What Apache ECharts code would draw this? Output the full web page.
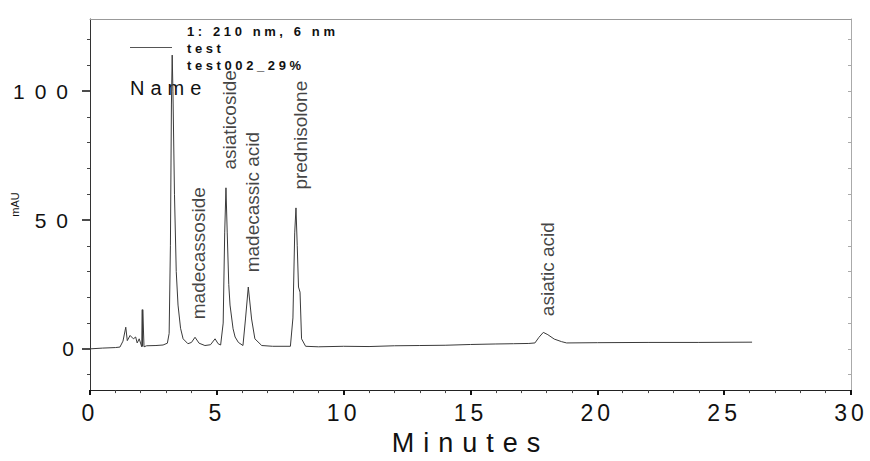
<!DOCTYPE html>
<html>
<head>
<meta charset="utf-8">
<script src="https://cdn.jsdelivr.net/npm/echarts@6/dist/echarts.min.js"></script>
<style>
html,body{margin:0;padding:0;background:#fff;}
#chart{width:870px;height:461px;}
</style>
</head>
<body>
<div id="chart"></div>
<script>
// Retention time (minutes) and absorbance (mAU)
const times = [0, 0.5, 1.0, 1.18, 1.30, 1.41, 1.47, 1.58, 1.71, 1.80, 1.86, 1.94, 2.04, 2.06, 2.07, 2.08, 2.13, 2.23, 2.6, 2.88, 3.05, 3.12, 3.17, 3.21, 3.24, 3.27, 3.33, 3.40, 3.47, 3.57, 3.67, 3.86, 4.0, 4.14, 4.3, 4.53, 4.75, 4.93, 5.05, 5.15, 5.25, 5.31, 5.36, 5.41, 5.47, 5.52, 5.64, 5.72, 5.85, 6.03, 6.13, 6.24, 6.37, 6.5, 6.77, 7.2, 7.9, 8.0, 8.07, 8.12, 8.17, 8.22, 8.28, 8.34, 8.5, 9, 10, 11, 12, 13, 14, 15, 16, 16.7, 17.3, 17.54, 17.7, 17.87, 18.05, 18.3, 18.59, 18.79, 20, 22, 24, 26.1];
const values = [0, 0.3, 0.5, 0.7, 3.0, 8.4, 3.2, 5.2, 3.9, 4.6, 2.3, 3.9, 0.8, 15.2, 1.0, 15.2, 0.8, 1.2, 1.3, 1.5, 2.2, 6, 40, 95, 114, 100, 60, 30, 17, 8, 3.9, 2.0, 2.5, 4.5, 2.2, 1.3, 1.6, 3.9, 2.0, 1.5, 10, 45, 62.5, 45, 25, 17, 7.8, 4.6, 2.5, 1.3, 11.6, 24, 11.6, 3.9, 1.3, 1.0, 1.0, 12, 45, 54.7, 40, 24, 22, 3.9, 1.0, 0.8, 1.0, 0.9, 1.2, 1.3, 1.4, 1.7, 1.9, 2.0, 2.1, 2.3, 4.5, 6.4, 5.5, 3.8, 2.8, 2.3, 2.4, 2.5, 2.5, 2.6];

// Peak name annotations: time of label, value where label text starts
const peakNames = ["madecassoside", "asiaticoside", "madecassic acid", "prednisolone", "asiatic acid"];
const peakTimes = [4.26, 5.48, 6.42, 8.28, 18.05];
const peakLabelY = [11.5, 69.6, 29.7, 61.8, 12.7];

// Axis ticks
const xMajorTicks = [0, 5, 10, 15, 20, 25, 30];
const yLabelTicks = [0, 50, 100];
const yMinorTicks = [-10, 10, 20, 30, 40, 60, 70, 80, 90, 110, 120];

const legendLines = ["1: 210 nm, 6 nm", "test", "test002_29%"];
const headerText = "Name";

const FONT = "'Liberation Sans', Arial, sans-serif";

const lineData = times.map((t, i) => [t, values[i]]);
const peakData = peakNames.map((n, i) => ({ name: n, value: [peakTimes[i], peakLabelY[i]] }));

const chart = echarts.init(document.getElementById('chart'), null, { renderer: 'svg' });

const option = {
  animation: false,
  backgroundColor: '#fff',
  grid: { left: 90, right: 19, top: 19, bottom: 70 },
  xAxis: [
    {
      type: 'value', min: 0, max: 30, interval: 5, position: 'bottom',
      axisLine: { show: true, onZero: false, lineStyle: { color: '#222', width: 1 } },
      axisTick: { show: true, length: 5, lineStyle: { color: '#111', width: 2 } },
      minorTick: { show: true, splitNumber: 5, length: 3, lineStyle: { color: '#444', width: 1 } },
      splitLine: { show: false },
      axisLabel: { fontSize: 23, fontFamily: FONT, color: '#111', margin: 11 },
      name: 'Minutes', nameLocation: 'middle', nameGap: 35,
      nameTextStyle: { fontSize: 27, fontFamily: FONT, color: '#111' }
    },
    {
      type: 'value', min: 0, max: 30, position: 'top',
      axisLine: { show: true, onZero: false, lineStyle: { color: '#999', width: 1 } },
      axisTick: { show: false }, axisLabel: { show: false }, splitLine: { show: false }
    }
  ],
  yAxis: [
    {
      type: 'value', min: -16, max: 128, position: 'left',
      axisLine: { show: true, onZero: false, lineStyle: { color: '#333', width: 1 } },
      axisTick: { show: true, length: 8, customValues: yLabelTicks, lineStyle: { color: '#111', width: 1.5 } },
      axisLabel: { customValues: yLabelTicks, fontSize: 21, fontFamily: FONT, color: '#111', margin: 12 },
      splitLine: { show: false },
      name: 'mAU', nameLocation: 'middle', nameRotate: 90, nameGap: 70,
      nameTextStyle: { fontSize: 11, fontFamily: FONT, color: '#111' }
    },
    {
      type: 'value', min: -16, max: 128, position: 'left',
      axisLine: { show: false },
      axisTick: { show: true, length: 3, customValues: yMinorTicks, lineStyle: { color: '#444', width: 1 } },
      axisLabel: { show: false }, splitLine: { show: false }
    },
    {
      type: 'value', min: -16, max: 128, position: 'right',
      axisLine: { show: true, onZero: false, lineStyle: { color: '#aaa', width: 1 } },
      axisTick: { show: true, inside: true, length: 3, customValues: yMinorTicks.concat(yLabelTicks), lineStyle: { color: '#aaa', width: 1 } },
      axisLabel: { show: false }, splitLine: { show: false }
    }
  ],
  series: [
    {
      type: 'line', xAxisIndex: 0, yAxisIndex: 0,
      data: lineData, showSymbol: false, symbol: 'none',
      lineStyle: { color: '#3a3a3a', width: 1 },
      silent: true
    },
    {
      type: 'scatter', xAxisIndex: 0, yAxisIndex: 0,
      data: peakData, symbolSize: 0, silent: true,
      label: {
        show: true, formatter: '{b}', position: [0, 0], rotate: 90,
        align: 'left', verticalAlign: 'middle',
        fontSize: 19, fontFamily: FONT, color: '#111'
      }
    }
  ],
  graphic: [
    { type: 'line', shape: { x1: 130, y1: 47.5, x2: 172, y2: 47.5 }, style: { stroke: '#555', lineWidth: 1 } },
    { type: 'text', x: 187, y: 31, style: { text: legendLines[0], font: "bold 13px 'Liberation Sans', Arial, sans-serif", fill: '#111', verticalAlign: 'middle' } },
    { type: 'text', x: 187, y: 48, style: { text: legendLines[1], font: "bold 13px 'Liberation Sans', Arial, sans-serif", fill: '#111', verticalAlign: 'middle' } },
    { type: 'text', x: 187, y: 65, style: { text: legendLines[2], font: "bold 13px 'Liberation Sans', Arial, sans-serif", fill: '#111', verticalAlign: 'middle' } },
    { type: 'text', x: 130, y: 88, style: { text: headerText, font: "20px 'Liberation Sans', Arial, sans-serif", fill: '#111', verticalAlign: 'middle' } }
  ]
};

chart.setOption(option);

// Scanned original uses letter-spaced text for axis/legend labels
const spacing = {};
['0', '5', '10', '15', '20', '25', '30'].forEach(s => spacing[s] = 4);
spacing['50'] = 10; spacing['100'] = 10;
spacing['Minutes'] = 9;
spacing[legendLines[0]] = 3.6; spacing[legendLines[1]] = 3.6; spacing[legendLines[2]] = 3.6;
spacing[headerText] = 6;
function applySpacing() {
  const texts = document.querySelectorAll('#chart svg text');
  texts.forEach(el => {
    const s = spacing[el.textContent];
    if (s !== undefined) el.setAttribute('letter-spacing', s + 'px');
  });
}
chart.on('finished', applySpacing);
setTimeout(applySpacing, 50);
setTimeout(applySpacing, 300);
</script>
</body>
</html>
